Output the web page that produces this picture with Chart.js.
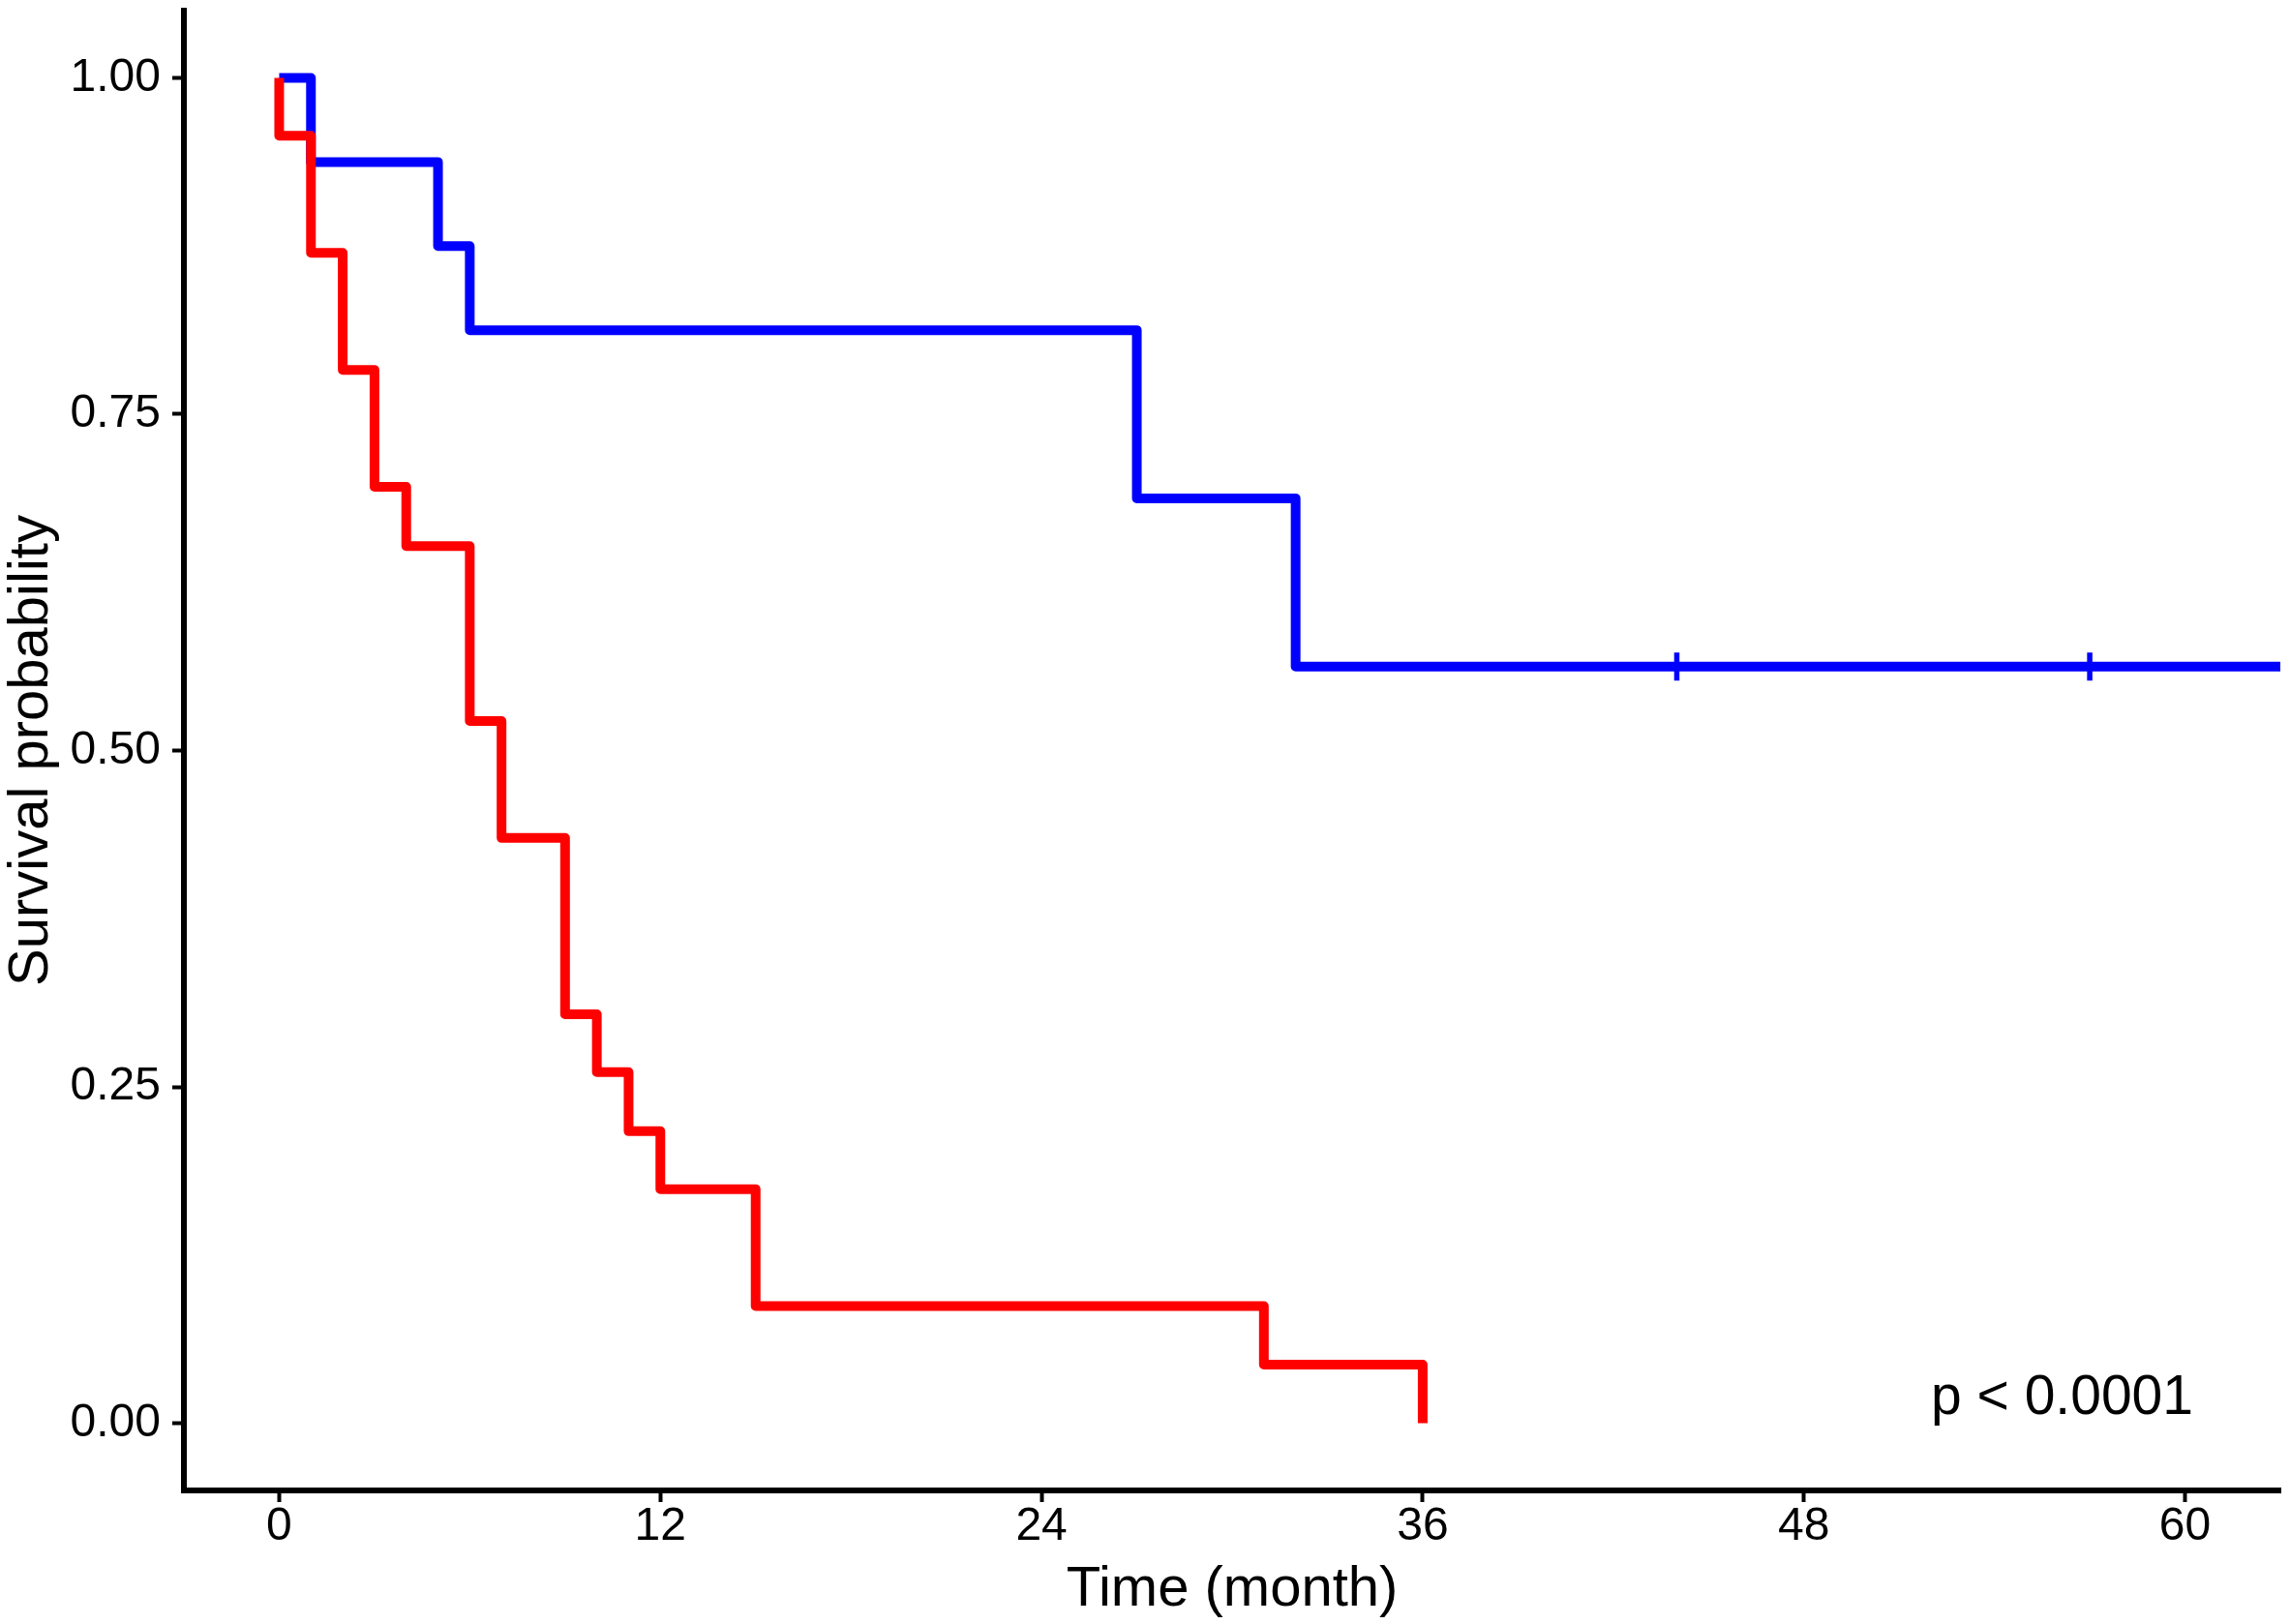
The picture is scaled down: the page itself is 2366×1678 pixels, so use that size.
<!DOCTYPE html>
<html>
<head>
<meta charset="utf-8">
<script src="https://cdn.jsdelivr.net/npm/chart.js@4.4.1/dist/chart.umd.min.js"></script>
<style>
  html, body { margin: 0; padding: 0; background: #ffffff; }
  #km { display: block; }
</style>
</head>
<body>
<canvas id="km" width="2366" height="1678"></canvas>
<script>
// Kaplan-Meier estimates (time in months)
const redTimes = [0, 0, 1, 2, 3, 4, 6, 7, 9, 10, 11, 12, 15, 31, 36];
const redSurv = [1.0, 0.957, 0.870, 0.783, 0.696, 0.652, 0.522, 0.435, 0.304, 0.261, 0.217, 0.174, 0.087, 0.0435, 0.0];

const blueTimes = [0, 1, 5, 6, 27, 32, 63];
const blueSurv = [1.0, 0.9375, 0.875, 0.8125, 0.6875, 0.5625, 0.5625];

// censored observations (blue group)
const censorTimes = [44, 57];
const censorSurv = [0.5625, 0.5625];

const xTicks = [0, 12, 24, 36, 48, 60];
const yTicks = [0, 0.25, 0.5, 0.75, 1.0];

const pvalText = "p < 0.0001";
const pvalX = 52;
const pvalY = 0.007;

const FONT = "'Liberation Sans', Arial, sans-serif";

function toPoints(xs, ys) {
    return xs.map((x, i) => ({ x: x, y: ys[i] }));
}

const pvalPlugin = {
    id: 'pvalLabel',
    afterDatasetsDraw(chart) {
        const ctx = chart.ctx;
        const px = chart.scales.x.getPixelForValue(pvalX);
        const py = chart.scales.y.getPixelForValue(pvalY);
        ctx.save();
        ctx.font = "57px " + FONT;
        ctx.fillStyle = "#000000";
        ctx.textAlign = "left";
        ctx.textBaseline = "alphabetic";
        ctx.fillText(pvalText, px, py);
        ctx.restore();
    }
};

let chartElement = document.getElementById('km').getContext('2d');

let kmChart = new Chart(chartElement,
    {
        type: 'line',
        data:
            {
                datasets:
                    [
                        {
                            label: 'censored',
                            type: 'scatter',
                            data: toPoints(censorTimes, censorSurv),
                            pointStyle: 'cross',
                            pointRadius: 14.5,
                            pointBorderWidth: 5.5,
                            borderWidth: 5.5,
                            borderColor: '#0000ff',
                            pointBorderColor: '#0000ff',
                            backgroundColor: '#0000ff',
                            showLine: false
                        },
                        {
                            label: 'red',
                            data: toPoints(redTimes, redSurv),
                            stepped: 'before',
                            borderColor: '#ff0000',
                            borderWidth: 10,
                            borderJoinStyle: 'round',
                            borderCapStyle: 'butt',
                            pointRadius: 0,
                            fill: false
                        },
                        {
                            label: 'blue',
                            data: toPoints(blueTimes, blueSurv),
                            stepped: 'before',
                            borderColor: '#0000ff',
                            borderWidth: 10,
                            borderJoinStyle: 'round',
                            borderCapStyle: 'butt',
                            pointRadius: 0,
                            fill: false
                        }
                    ]
            },
        options:
            {
                responsive: false,
                animation: false,
                devicePixelRatio: 1,
                layout: { autoPadding: false, padding: { top: 11, right: 10, left: 0, bottom: 0 } },
                plugins:
                    {
                        legend: { display: false },
                        tooltip: { enabled: false }
                    },
                scales:
                    {
                        x:
                            {
                                type: 'linear',
                                min: -3,
                                max: 63,
                                afterBuildTicks: (scale) => { scale.ticks = xTicks.map(v => ({ value: v })); },
                                afterFit: (scale) => { scale.height = 138; scale.paddingLeft = 0; scale.paddingRight = 0; },
                                border: { display: true, color: '#000000', width: 6 },
                                grid: { drawOnChartArea: false, drawTicks: true, tickLength: 12, tickColor: '#000000', tickWidth: 4 },
                                ticks: { color: '#000000', font: { family: FONT, size: 48 }, padding: -3, maxRotation: 0 },
                                title: { display: true, text: 'Time (month)', color: '#000000', font: { family: FONT, size: 58 }, padding: { top: 0, bottom: 0 } }
                            },
                        y:
                            {
                                type: 'linear',
                                min: -0.05,
                                max: 1.05,
                                afterBuildTicks: (scale) => { scale.ticks = yTicks.map(v => ({ value: v })); },
                                afterFit: (scale) => { scale.width = 190; scale.paddingTop = 0; scale.paddingBottom = 0; },
                                border: { display: true, color: '#000000', width: 6 },
                                grid: { drawOnChartArea: false, drawTicks: true, tickLength: 12, tickColor: '#000000', tickWidth: 4 },
                                ticks: { color: '#000000', font: { family: FONT, size: 48 }, padding: 12, callback: (v) => Number(v).toFixed(2) },
                                title: { display: true, text: 'Survival probability', color: '#000000', font: { family: FONT, size: 58 }, padding: { top: -2, bottom: 0 } }
                            }
                    }
            },
        plugins: [pvalPlugin]
    });
</script>
</body>
</html>
